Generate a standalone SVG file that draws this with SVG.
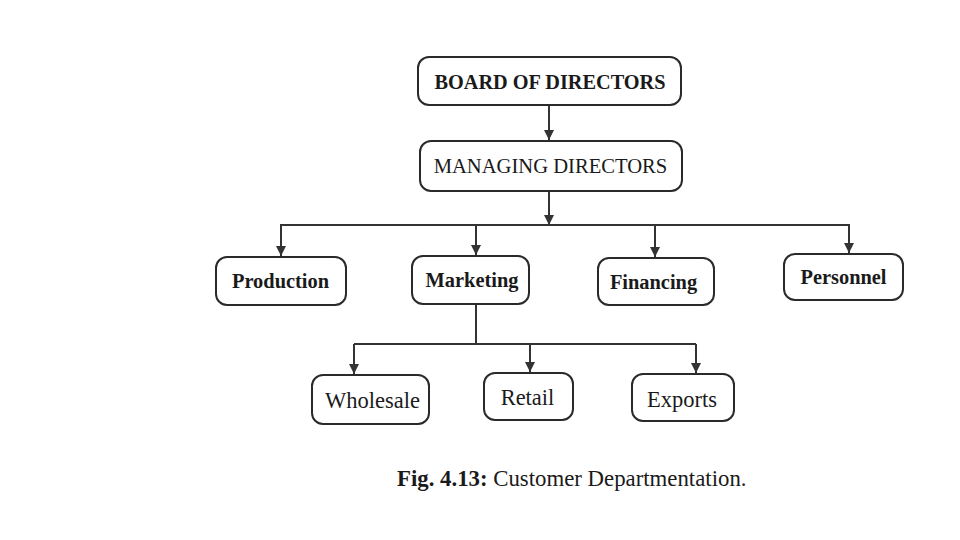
<svg xmlns="http://www.w3.org/2000/svg" width="960" height="540" viewBox="0 0 960 540">
<style>
.box{fill:#fff;stroke:#2a2a2a;stroke-width:2}
.t{font-family:"Liberation Serif","Times New Roman",serif;fill:#1a1a1a;text-anchor:middle;dominant-baseline:central}
.b{font-weight:bold}
.ln{fill:none;stroke:#333;stroke-width:2}
</style>
<defs>
<marker id="ah" viewBox="0 0 10 10" refX="10" refY="5" markerWidth="5" markerHeight="5" orient="auto" markerUnits="strokeWidth">
<path d="M0,0 L10,5 L0,10 z" fill="#333"/>
</marker>
</defs>
<rect width="960" height="540" fill="#fff"/>
<g id="connectors">
<line class="ln" x1="549" y1="105" x2="549" y2="140" marker-end="url(#ah)"/>
<line class="ln" x1="549" y1="191" x2="549" y2="225" marker-end="url(#ah)"/>
<polyline class="ln" points="281,256 281,225 849,225 849,253"/>
<line class="ln" x1="281" y1="225" x2="281" y2="256" marker-end="url(#ah)"/>
<line class="ln" x1="476" y1="225" x2="476" y2="255" marker-end="url(#ah)"/>
<line class="ln" x1="655" y1="225" x2="655" y2="257" marker-end="url(#ah)"/>
<line class="ln" x1="849" y1="225" x2="849" y2="253" marker-end="url(#ah)"/>
<line class="ln" x1="476" y1="304" x2="476" y2="344"/>
<polyline class="ln" points="354,344 696,344"/>
<line class="ln" x1="354" y1="344" x2="354" y2="374" marker-end="url(#ah)"/>
<line class="ln" x1="530" y1="344" x2="530" y2="372" marker-end="url(#ah)"/>
<line class="ln" x1="696" y1="344" x2="696" y2="373" marker-end="url(#ah)"/>
</g>
<g id="board">
<rect class="box" x="418" y="57" width="263" height="48" rx="11"/>
<text class="t b" x="550" y="82" font-size="20.3">BOARD OF DIRECTORS</text>
</g>
<g id="managing">
<rect class="box" x="420" y="141" width="262" height="50" rx="11"/>
<text class="t" x="550.5" y="166" font-size="20.6">MANAGING DIRECTORS</text>
</g>
<g id="production">
<rect class="box" x="216" y="257" width="130" height="48" rx="11"/>
<text class="t b" x="280.5" y="281" font-size="20.4">Production</text>
</g>
<g id="marketing">
<rect class="box" x="412" y="256" width="117" height="48" rx="11"/>
<text class="t b" x="472" y="280" font-size="20.4">Marketing</text>
</g>
<g id="financing">
<rect class="box" x="598" y="258" width="116" height="47" rx="11"/>
<text class="t b" x="653.5" y="282" font-size="20.4">Financing</text>
</g>
<g id="personnel">
<rect class="box" x="784" y="254" width="119" height="46" rx="11"/>
<text class="t b" x="843.5" y="277" font-size="20.4">Personnel</text>
</g>
<g id="wholesale">
<rect class="box" x="312" y="375" width="117" height="49" rx="11"/>
<text class="t" x="372.5" y="400" font-size="22.5">Wholesale</text>
</g>
<g id="retail">
<rect class="box" x="484" y="373" width="89" height="47" rx="11"/>
<text class="t" x="527.5" y="397" font-size="22.5">Retail</text>
</g>
<g id="exports">
<rect class="box" x="632" y="374" width="102" height="47" rx="11"/>
<text class="t" x="682" y="399" font-size="22.5">Exports</text>
</g>
<text x="397" y="486" font-family="Liberation Serif,'Times New Roman',serif" font-size="22.8" fill="#1a1a1a"><tspan font-weight="bold">Fig. 4.13:</tspan> Customer Departmentation.</text>
</svg>
